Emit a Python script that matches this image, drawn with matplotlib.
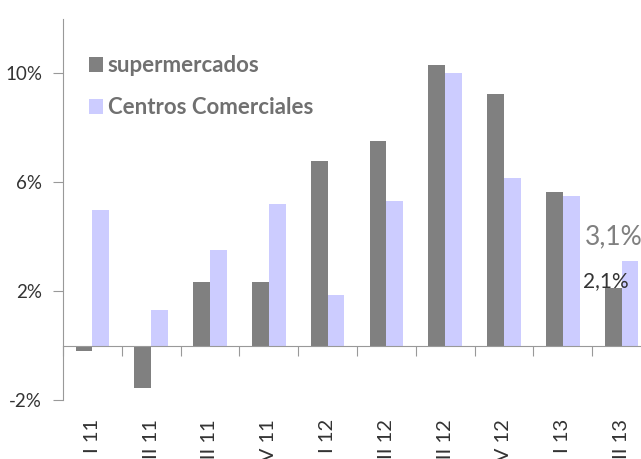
import numpy as np
import matplotlib.pyplot as plt
from matplotlib.transforms import blended_transform_factory

# quarters (the first numeral is clipped at the bottom of the original chart)
periods = ["I 11", "II 11", "III 11", "IV 11", "I 12",
           "II 12", "III 12", "IV 12", "I 13", "II 13"]
supermercados = [-0.2, -1.55, 2.35, 2.35, 6.8, 7.5, 10.3, 9.25, 5.65, 2.1]
centros = [5.0, 1.3, 3.5, 5.2, 1.85, 5.3, 10.0, 6.15, 5.5, 3.1]
y_ticks = [-2, 2, 6, 10]

plt.rcParams['font.family'] = ['Lato', 'DejaVu Sans']

fig = plt.figure(figsize=(6.41, 4.59), dpi=100)
ax = fig.add_axes([63 / 641, 59 / 459, 588 / 641, 381 / 459])

x = np.arange(len(periods))
w = 0.285
ax.bar(x - w / 2, supermercados, w, color='#808080', label='supermercados')
ax.bar(x + w / 2, centros, w, color='#ccccff', label='Centros Comerciales')

ax.set_xlim(-0.5, len(periods) - 0.5)
ax.set_ylim(-2, 12)

# axes styling
for s in ['top', 'right']:
    ax.spines[s].set_visible(False)
ax.spines['left'].set_color('#999999')
ax.spines['bottom'].set_color('#999999')
ax.spines['bottom'].set_position(('data', 0))

ax.set_yticks(y_ticks)
ax.set_yticklabels([f"{v}%" for v in y_ticks], fontsize=13.5, color='#333333')
ax.tick_params(axis='y', length=7, color='#999999', pad=8)

ax.set_xticks(np.arange(len(periods)) - 0.5)
ax.set_xticklabels([])
ax.tick_params(axis='x', length=7, color='#999999', direction='out')

# category labels, rotated and hanging below the plot
trans = blended_transform_factory(ax.transData, fig.transFigure)
for xi, lab in zip(x, periods):
    ax.text(xi, (459 - 419) / 459, lab, rotation=90, ha='center', va='top',
            fontsize=14.5, color='#333333', transform=trans, clip_on=False)

# last values
ax.text(8.38, 3.72, "3,1%", ha='left', va='baseline',
        fontsize=19, color='#808080')
ax.text(8.74, 2.14, "2,1%", ha='center', va='baseline',
        fontsize=15, color='#333333')

leg = ax.legend(loc='upper left', bbox_to_anchor=(89 / 641, 1 - 55 / 459),
                bbox_transform=fig.transFigure, frameon=False, borderpad=0,
                borderaxespad=0, handlelength=0.65, handleheight=0.65,
                handletextpad=0.2, labelspacing=0.95, labelcolor='#707070',
                prop={'weight': 'bold', 'size': 16})

fig.savefig('out.png', dpi=100)
